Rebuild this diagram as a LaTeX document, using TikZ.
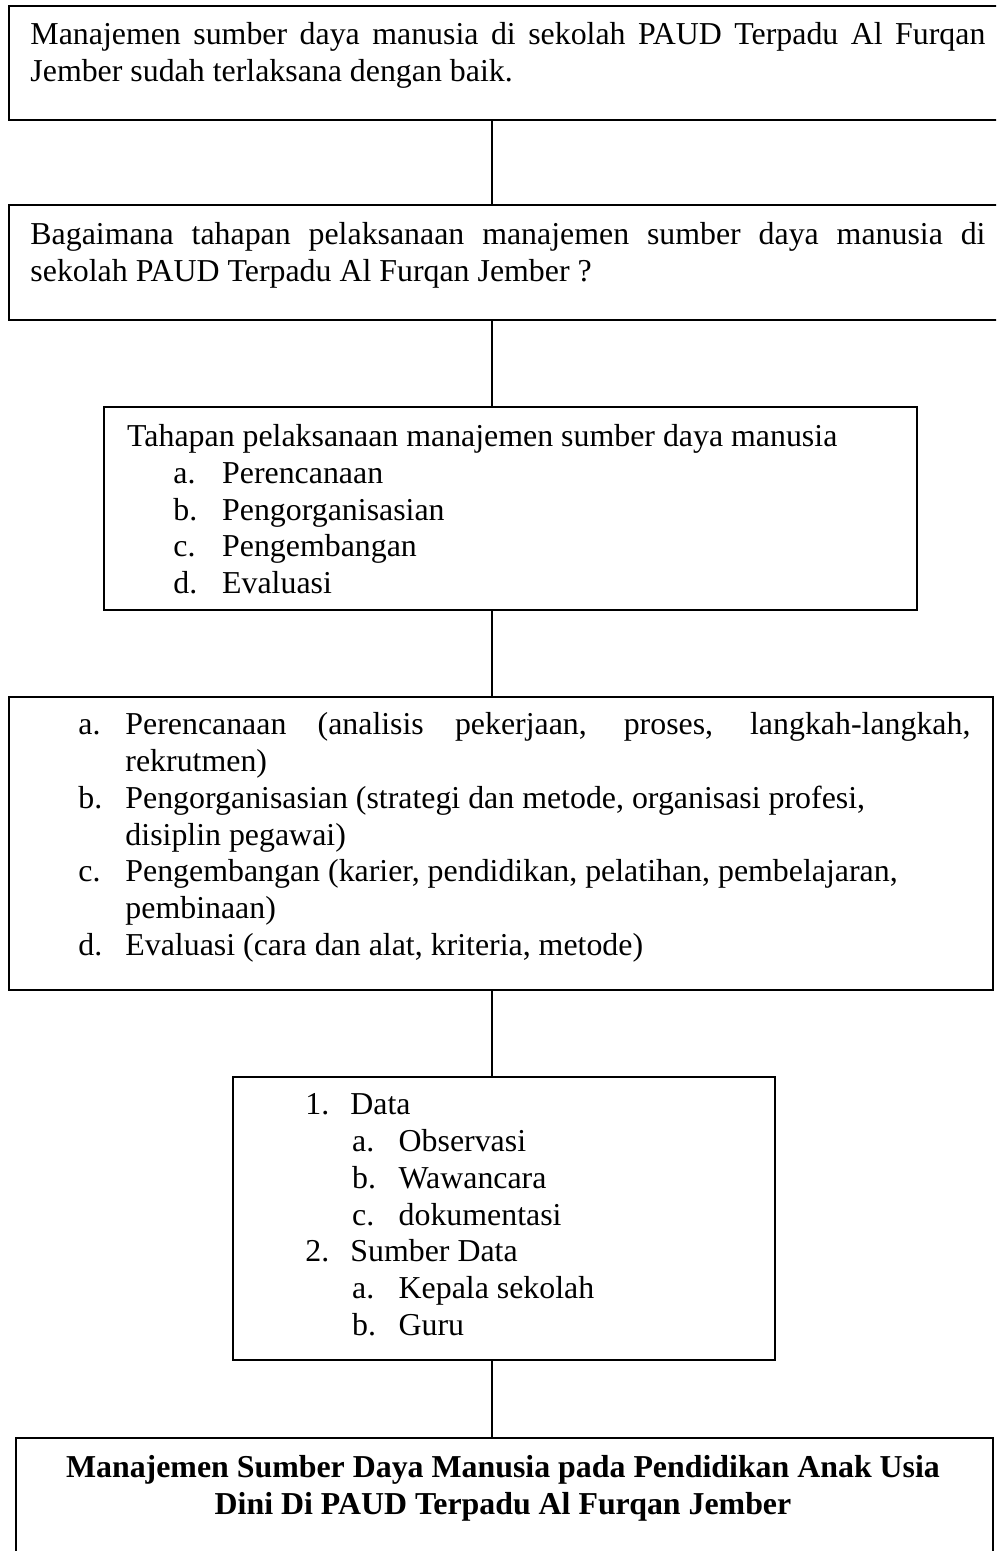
\documentclass[tikz,border=0pt]{standalone}
\usepackage{fontspec}
\setmainfont{Liberation Serif}
\usetikzlibrary{fit}
\newlength\px
\setlength\px{0.433pt}
\tikzset{
  box/.style={draw, line width=0.9pt, inner sep=0pt},
  conn/.style={draw, line width=0.9pt},
  txt/.style={anchor=base west, inner sep=0pt, align=left, font=\fontsize{13.8}{15.9}\selectfont},
  btxt/.style={anchor=base, inner sep=0pt, align=center, font=\fontsize{13.8}{15.9}\selectfont\bfseries},
}
\begin{document}
\begin{tikzpicture}[x=0.433pt,y=-0.433pt]
\useasboundingbox (0,0) rectangle (996,1551);
\clip (0,0) rectangle (996,1551);
\fill[white] (0,0) rectangle (996,1551);
\coordinate (spine) at (492,0);
% boxes
\node[box, fit={(9,6) (1012,120)}] (b1) {};
\node[box, fit={(9,205) (1012,320)}] (b2) {};
\node[box, fit={(104,407) (917,610)}] (b3) {};
\node[box, fit={(9,697) (993,990)}] (b4) {};
\node[box, fit={(233,1077) (775,1360)}] (b5) {};
\node[box, fit={(16,1438) (993,1575)}] (b6) {};
% connectors
\draw[conn] (b1.south -| spine) -- (b2.north -| spine);
\draw[conn] (b2.south -| spine) -- (b3.north -| spine);
\draw[conn] (b3.south -| spine) -- (b4.north -| spine);
\draw[conn] (b4.south -| spine) -- (b5.north -| spine);
\draw[conn] (b5.south -| spine) -- (b6.north -| spine);
% texts (anchored at the baseline of the last line)
\node[txt] (t1) at (30,81.7) {\makebox[955\px][s]{Manajemen sumber daya manusia di sekolah PAUD Terpadu Al Furqan}\\Jember sudah terlaksana dengan baik.};
\node[txt] (t2) at (30,281.7) {\makebox[955\px][s]{Bagaimana tahapan pelaksanaan manajemen sumber daya manusia di}\\sekolah PAUD Terpadu Al Furqan Jember ?};
\node[txt] (t3) at (126.7,593.5) {Tahapan pelaksanaan manajemen sumber daya manusia\\
\hspace*{46.3\px}\makebox[48.7\px][l]{a.}Perencanaan\\
\hspace*{46.3\px}\makebox[48.7\px][l]{b.}Pengorganisasian\\
\hspace*{46.3\px}\makebox[48.7\px][l]{c.}Pengembangan\\
\hspace*{46.3\px}\makebox[48.7\px][l]{d.}Evaluasi};
\node[txt] (t4) at (78,955.2) {\makebox[47\px][l]{a.}\makebox[845\px][s]{Perencanaan (analisis pekerjaan, proses, langkah-langkah,}\\
\hspace*{47\px}rekrutmen)\\
\makebox[47\px][l]{b.}Pengorganisasian (strategi dan metode, organisasi profesi,\\
\hspace*{47\px}disiplin pegawai)\\
\makebox[47\px][l]{c.}Pengembangan (karier, pendidikan, pelatihan, pembelajaran,\\
\hspace*{47\px}pembinaan)\\
\makebox[47\px][l]{d.}Evaluasi (cara dan alat, kriteria, metode)};
\node[txt] (t5) at (305,1335.2) {\makebox[45\px][l]{1.}Data\\
\hspace*{46.7\px}\makebox[46.5\px][l]{a.}Observasi\\
\hspace*{46.7\px}\makebox[46.5\px][l]{b.}Wawancara\\
\hspace*{46.7\px}\makebox[46.5\px][l]{c.}dokumentasi\\
\makebox[45\px][l]{2.}Sumber Data\\
\hspace*{46.7\px}\makebox[46.5\px][l]{a.}Kepala sekolah\\
\hspace*{46.7\px}\makebox[46.5\px][l]{b.}Guru};
\node[btxt] (t6) at (503,1514.7) {Manajemen Sumber Daya Manusia pada Pendidikan Anak Usia\\Dini Di PAUD Terpadu Al Furqan Jember};
\end{tikzpicture}
\end{document}
